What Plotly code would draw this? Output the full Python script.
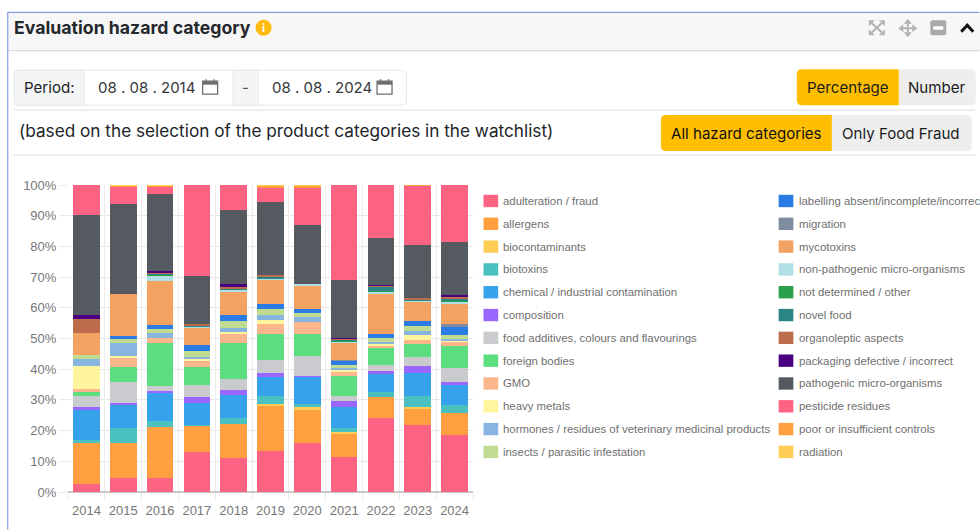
import plotly.graph_objects as go

years = ["2014","2015","2016","2017","2018","2019","2020","2021","2022","2023","2024"]
adulteration = [2.5,4.6,4.7,13,11,13.5,16,11.3,24,21.7,18.6]
allergens = [13.3,11.4,16.4,8.7,11.2,14.5,11,7.7,7.1,5.5,7.2]
biocontaminants = [0,0,0,0,0,0.8,0.6,0.4,0,0.5,0]
biotoxins = [1.2,5,2.1,0.2,1.8,2.6,1.2,1.4,1.4,3.5,2.4]
chemical = [9.7,7.5,9.3,7.1,7.5,5.9,8.7,7,6.2,7.6,6.6]
composition = [1.1,0.6,0.4,1.8,1.8,1.5,0.2,1.7,0.6,2.2,1.1]
additives = [3.5,6.6,1.5,4.1,3.4,4.3,6.6,1.9,2.2,2.9,4.6]
foreign = [1.2,5,14,5.8,11.9,8.5,7.3,6.4,5.3,4.3,7]
gmo = [1.2,2.8,1.8,2,2.9,3.1,3.8,1.3,0.9,1.4,1.5]
heavy = [7.3,0.8,0.1,0.7,0.6,1.4,0,0.8,0.5,1.6,0.4]
hormones = [2.3,4.2,1.5,0.5,1.3,1.4,1.7,0.4,0.7,1.1,0.4]
insects = [1.2,1.5,1.2,2.1,2.2,2.2,1.1,1,1.3,1.7,1.3]
labelling = [0,0.9,1.4,1.8,2,1.7,1.5,1.6,1.3,1.7,2.7]
migration = [0,0,0,0,0,0,0,0.2,0,0,0.8]
mycotoxins = [7.3,13.5,14.3,5.8,7.6,7.9,7.7,5.7,13.3,6.3,6.9]
nonpathogenic = [0,0,1.9,0.4,0.6,0.1,0.2,0.3,0.6,0.4,0.4]
notdetermined = [0,0,0.2,0,0.1,0.3,0,0.1,0.2,0,0.5]
novelfood = [0,0,0.5,0.2,0.2,0.4,0,0.5,1.2,0.1,0.6]
organoleptic = [4.7,0,0.2,0.5,0.7,0.7,0,0.2,0.4,0.7,0.8]
packaging = [1.2,0,0.4,0,0.8,0,0,0.2,0.3,0.1,0.3]
pathogenic = [32.5,29.3,25.3,15.5,24.4,23.7,19.3,18.8,15.4,17.1,17.3]
pesticide = [9.8,5.8,2,29.8,8,4.7,12.3,31.1,17.1,19.4,18.6]
poor = [0,0.2,0.7,0,0,0.6,0.5,0,0,0.2,0]
radiation = [0,0.3,0.1,0,0,0.2,0.3,0,0,0,0]

series = [
    ("adulteration / fraud", adulteration, "#ff6384"),
    ("allergens", allergens, "#ff9f40"),
    ("biocontaminants", biocontaminants, "#ffcd56"),
    ("biotoxins", biotoxins, "#4bc0c0"),
    ("chemical / industrial contamination", chemical, "#36a2eb"),
    ("composition", composition, "#9966ff"),
    ("food additives, colours and flavourings", additives, "#c9cbcf"),
    ("foreign bodies", foreign, "#5cdd80"),
    ("GMO", gmo, "#fcb68c"),
    ("heavy metals", heavy, "#fff59d"),
    ("hormones / residues of veterinary medicinal products", hormones, "#87b5e0"),
    ("insects / parasitic infestation", insects, "#bfdc90"),
    ("labelling absent/incomplete/incorrect", labelling, "#2b7be5"),
    ("migration", migration, "#7f8c9f"),
    ("mycotoxins", mycotoxins, "#f4a261"),
    ("non-pathogenic micro-organisms", nonpathogenic, "#b0e0e6"),
    ("not determined / other", notdetermined, "#28a04a"),
    ("novel food", novelfood, "#2a8585"),
    ("organoleptic aspects", organoleptic, "#bc6c4a"),
    ("packaging defective / incorrect", packaging, "#4b0082"),
    ("pathogenic micro-organisms", pathogenic, "#555a60"),
    ("pesticide residues", pesticide, "#ff6384"),
    ("poor or insufficient controls", poor, "#ff9f40"),
    ("radiation", radiation, "#ffcd56"),
]

W, H = 980, 530
L, R, T, B = 68.3, 473.5, 185, 492.5
px = lambda x: (x - L) / (R - L)
py = lambda y: (B - y) / (B - T)

fig = go.Figure()
for name, vals, col in series:
    fig.add_bar(x=years, y=vals, name=name, marker_color=col, marker_line_width=0, showlegend=False)

shapes, annos = [], []

def rect(x0, y0, x1, y1, fill=None, line=None, lw=1):
    shapes.append(dict(type="rect", xref="paper", yref="paper", x0=px(x0), x1=px(x1), y0=py(y0), y1=py(y1),
                       fillcolor=fill or "rgba(0,0,0,0)", line=dict(color=line or "rgba(0,0,0,0)", width=lw if line else 0), layer="below"))

def seg(x0, y0, x1, y1, col, lw=1):
    shapes.append(dict(type="line", xref="paper", yref="paper", x0=px(x0), x1=px(x1), y0=py(y0), y1=py(y1),
                       line=dict(color=col, width=lw), layer="below"))

def rrect(x0, y0, x1, y1, r, fill, line=None, left=True, right=True):
    a, b, c, d = px(x0), px(x1), py(y0), py(y1)
    rx, ry = r / (R - L), r / (B - T)
    p = f"M{a + (rx if left else 0)},{c} L{b - (rx if right else 0)},{c} "
    p += f"Q{b},{c} {b},{c - ry} L{b},{d + ry} Q{b},{d} {b - rx},{d} " if right else f"L{b},{d} "
    p += f"L{a + (rx if left else 0)},{d} "
    p += f"Q{a},{d} {a},{d + ry} L{a},{c - ry} Q{a},{c} {a + rx},{c} Z" if left else f"L{a},{c} Z"
    shapes.append(dict(type="path", xref="paper", yref="paper", path=p, fillcolor=fill,
                       line=dict(color=line or "rgba(0,0,0,0)", width=1 if line else 0), layer="below"))

def poly(pts, fill="rgba(0,0,0,0)", line=None, lw=1):
    p = "M" + " L".join(f"{px(x)},{py(y)}" for x, y in pts)
    if fill != "rgba(0,0,0,0)":
        p += " Z"
    shapes.append(dict(type="path", xref="paper", yref="paper", path=p, fillcolor=fill,
                       line=dict(color=line or "rgba(0,0,0,0)", width=lw if line else 0), layer="below"))

def text(x, y, s, size, col="#212529", anchor="left", fam="Inter", bold=False):
    annos.append(dict(xref="paper", yref="paper", x=px(x), y=py(y), text=f"<b>{s}</b>" if bold else s,
                      showarrow=False, xanchor=anchor, yanchor="middle",
                      font=dict(size=size, color=col, family=fam), borderpad=0, borderwidth=0))

def calendar(x, y):
    rect(x, y + 2, x + 15, y + 15, None, "#6f6f6f", 1.3)
    rect(x, y + 2, x + 15, y + 5.5, "#6f6f6f")
    seg(x + 3.5, y, x + 3.5, y + 3, "#6f6f6f", 1.3)
    seg(x + 11.5, y, x + 11.5, y + 3, "#6f6f6f", 1.3)

# card
rect(8, 12, 990, 50.5, "#f7f7f7")
seg(8, 12, 980, 12, "#7f9fe3", 1.2)
seg(8, 12, 8, 530, "#7f9fe3", 1.2)
seg(8, 50.5, 980, 50.5, "#dcdcdc", 1.2)
text(14.5, 27.5, "Evaluation hazard category", 17.7, "#25282c", bold=True)
shapes.append(dict(type="circle", xref="paper", yref="paper", x0=px(256), x1=px(272), y0=py(19.5), y1=py(35.5),
                   fillcolor="#ffbb10", line_width=0, layer="below"))
text(264, 27.5, "i", 11, "#ffffff", "center", bold=True)

# header icons
ICON = "#b4b4b4"
for (a, b, c, d) in [(870, 21, 884, 34), (884, 21, 870, 34)]:
    seg(a + 0.5, b, c + 0.5, d, ICON, 2)
for x, y, dx, dy in [(869.5, 20, 1, 1), (885.5, 20, -1, 1), (869.5, 35, 1, -1), (885.5, 35, -1, -1)]:
    poly([(x, y), (x + 6 * dx, y), (x, y + 6 * dy)], fill=ICON)
seg(901, 28, 916, 28, ICON, 2)
seg(908.5, 20, 908.5, 36, ICON, 2)
for x, y, dx, dy in [(899, 28, 1, 0), (918, 28, -1, 0), (908.5, 18.5, 0, 1), (908.5, 37, 0, -1)]:
    poly([(x, y), (x + 5 * dx + 4 * dy, y + 5 * dy + 4 * dx), (x + 5 * dx - 4 * dy, y + 5 * dy - 4 * dx)], fill=ICON)
rrect(931, 20, 947, 35, 2, "#aaaaaa")
rect(934, 26, 944, 29.5, "#ffffff")
poly([(962, 31.5), (968, 25), (974, 31.5)], line="#111111", lw=3)

# period group
rrect(14.5, 70, 407, 105, 4, "#ffffff", "#e6e8eb")
rrect(14.5, 70, 84.5, 105, 4, "#f4f5f7", "#e6e8eb", right=False)
rect(233.5, 70, 258.5, 105, "#f4f5f7", "#e6e8eb")
text(24.5, 87.5, "Period:", 15.1)
text(98, 87.5, "08 . 08 . 2014", 15, "#33373b")
text(272, 87.5, "08 . 08 . 2024", 15, "#33373b")
text(245.5, 87.5, "-", 15, "#555555", "center")
calendar(203, 79)
calendar(377.5, 79)
seg(14, 110, 976, 110, "#e4e4e4", 1.2)
seg(14, 155, 976, 155, "#e4e4e4", 1.2)
text(19.5, 130, "(based on the selection of the product categories in the watchlist)", 17.2, "#212529")

# toggle buttons
rrect(899.5, 69, 976.5, 105, 5, "#eeeeee", left=False)
rrect(797.5, 69, 899.5, 105, 5, "#ffbf00", right=False)
text(848.5, 87.5, "Percentage", 15.1, "#1c1c1c", "center")
text(938, 87.5, "Number", 15.1, "#1c1c1c", "center")
rrect(832.5, 115, 972.5, 151, 5, "#eeeeee", left=False)
rrect(661.5, 115, 832.5, 151, 5, "#ffbf00", right=False)
text(747, 133.5, "All hazard categories", 15.1, "#111111", "center")
text(902, 133.5, "Only Food Fraud", 15.1, "#1c1c1c", "center")

# two-column legend, filled column by column
for i, (name, _vals, col) in enumerate(series):
    c = i // 12
    row = i % 12
    x0 = 484 + c * 295.3
    yc = 201 + row * 22.85
    rect(x0, yc - 6.2, x0 + 14.7, yc + 6.2, col)
    text(x0 + 20, yc, name, 11.4, "#6f6f6f", fam="Liberation Sans")

fig.update_layout(
    width=W, height=H, autosize=False, barmode="stack", bargap=0.275,
    margin=dict(l=L, r=W - R, t=T, b=H - B, pad=0, autoexpand=False),
    paper_bgcolor="#ffffff", plot_bgcolor="#ffffff", hovermode=False, showlegend=False,
    font=dict(family="Liberation Sans", color="#777777", size=13),
    shapes=shapes, annotations=annos,
    xaxis=dict(type="category", categoryorder="array", categoryarray=years, tickson="boundaries",
               tickangle=0, showgrid=True, gridcolor="#ececec", gridwidth=1, ticks="outside", ticklen=8,
               tickcolor="#ececec", showline=False, zeroline=False, ticklabelstandoff=9,
               tickfont=dict(size=13, color="#777777")),
    yaxis=dict(range=[0, 100], tick0=0, dtick=10, ticksuffix="%",
               showgrid=True, gridcolor="#e8e8e8", gridwidth=1, ticks="outside", ticklen=8,
               tickcolor="#e8e8e8", zeroline=True, zerolinecolor="#c8c8c8", zerolinewidth=1.5,
               showline=False, tickfont=dict(size=13, color="#777777")),
)
fig.write_html("out.html", config=dict(displayModeBar=False),
               post_script="document.body.style.margin='0';document.documentElement.style.overflow='hidden';")
